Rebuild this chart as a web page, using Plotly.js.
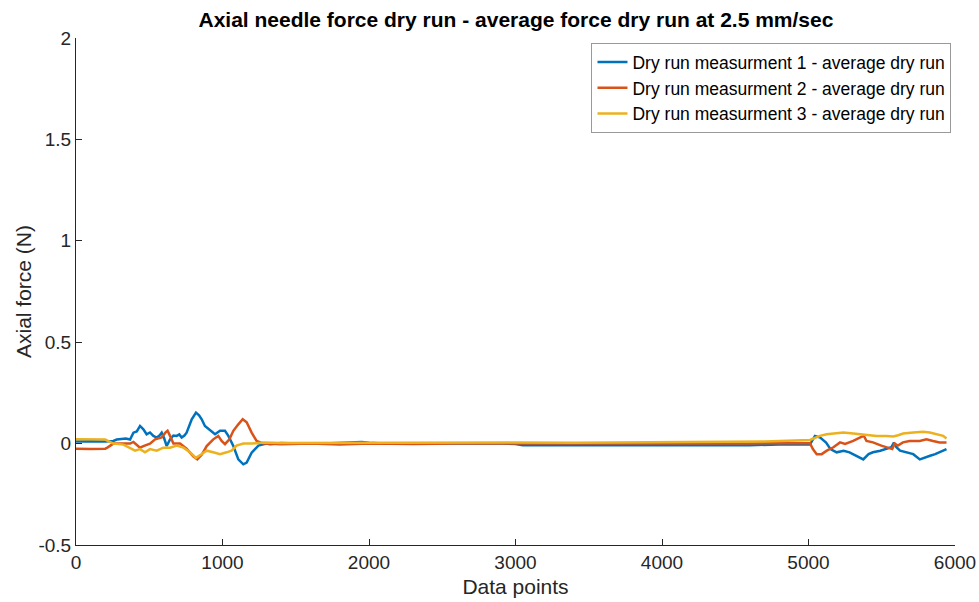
<!DOCTYPE html>
<html><head><meta charset="utf-8">
<script src="https://cdn.plot.ly/plotly-3.0.1.min.js"></script>
<style>html,body{margin:0;padding:0;background:#fff}#chart{width:979px;height:602px}</style>
</head><body><div id="chart"></div>
<script>
const seriesNames = ["Dry run measurment 1 - average dry run","Dry run measurment 2 - average dry run","Dry run measurment 3 - average dry run"];
const seriesColors = ["#0072BD","#D95319","#EDB120"];

const x1 = [0,100,200,255,278,340,369,392,415,437,460,482,505,528,551,570,585,600,619,642,665,687,705,721,740,755,790,819,840,858,880,900,915,949,983,1017,1040,1074,1108,1142,1165,1199,1245,1300,1324,1400,1500,1600,1700,1800,1900,1950,2000,2100,2300,2500,2700,2900,3000,3050,3300,3600,3800,4000,4300,4600,4800,5010,5044,5080,5120,5150,5192,5240,5280,5330,5374,5410,5440,5490,5530,5565,5583,5600,5625,5670,5715,5760,5795,5830,5865,5910,5942];
const y1 = [0.010,0.012,0.010,0.013,0.020,0.025,0.020,0.054,0.060,0.087,0.070,0.046,0.055,0.038,0.030,0.040,0.054,0.030,-0.012,0.021,0.040,0.038,0.045,0.030,0.040,0.054,0.120,0.153,0.140,0.120,0.087,0.075,0.063,0.046,0.063,0.063,0.038,-0.012,-0.078,-0.102,-0.094,-0.045,-0.010,0.000,-0.003,0.003,0.000,0.002,0.000,0.003,0.006,0.008,0.004,0.000,0.002,0.000,0.001,0.000,-0.002,-0.008,-0.008,-0.006,-0.008,-0.008,-0.006,-0.008,-0.004,-0.005,0.038,0.030,0.005,-0.027,-0.043,-0.035,-0.043,-0.060,-0.078,-0.052,-0.043,-0.035,-0.027,-0.018,0.005,-0.018,-0.035,-0.043,-0.052,-0.078,-0.068,-0.060,-0.052,-0.035,-0.027];

const x2 = [0,100,200,214,255,290,369,392,415,437,460,505,540,585,610,625,642,665,710,755,800,828,858,892,937,971,994,1017,1047,1074,1108,1138,1165,1199,1233,1280,1400,1600,1800,2000,2300,2600,3000,3400,3800,4200,4600,5010,5030,5056,5090,5125,5170,5215,5250,5305,5350,5378,5396,5440,5497,5542,5572,5588,5610,5645,5690,5760,5805,5850,5895,5942];
const y2 = [-0.025,-0.027,-0.025,-0.020,0.000,0.000,0.000,0.008,-0.005,-0.020,-0.012,0.000,0.021,0.030,0.054,0.063,0.038,0.000,0.000,-0.025,-0.063,-0.078,-0.055,-0.012,0.021,0.038,0.013,-0.003,0.021,0.063,0.095,0.120,0.105,0.054,0.013,0.000,-0.003,0.000,-0.004,0.000,-0.002,0.001,0.000,-0.001,0.001,0.000,0.001,0.002,-0.027,-0.052,-0.052,-0.035,-0.018,0.006,-0.002,0.013,0.030,0.038,0.013,0.006,-0.010,-0.018,-0.027,0.000,-0.010,0.006,0.013,0.013,0.021,0.013,0.006,0.006];

const x3 = [0,100,200,214,255,324,369,403,437,471,505,551,596,642,687,733,778,819,851,892,937,983,1028,1062,1096,1142,1199,1279,1400,1800,2200,2600,3000,3400,3800,4200,4700,5010,5044,5078,5124,5170,5238,5306,5351,5397,5465,5533,5578,5612,5646,5715,5783,5828,5874,5919,5942];
const y3 = [0.021,0.022,0.020,0.015,0.000,-0.005,-0.020,-0.035,-0.027,-0.043,-0.027,-0.035,-0.020,-0.020,-0.010,-0.020,-0.043,-0.070,-0.055,-0.035,-0.043,-0.052,-0.043,-0.035,-0.010,0.000,0.000,0.005,0.003,0.004,0.002,0.004,0.005,0.004,0.006,0.005,0.010,0.018,0.030,0.038,0.046,0.050,0.055,0.050,0.046,0.043,0.038,0.038,0.035,0.041,0.050,0.055,0.058,0.055,0.046,0.038,0.025];

const xTicks = [0,1000,2000,3000,4000,5000,6000];
const yTicks = [-0.5,0,0.5,1,1.5,2];

const xs = [x1,x2,x3], ys = [y1,y2,y3];
const traces = xs.map((x,i)=>({x:x,y:ys[i],type:'scatter',mode:'lines',name:seriesNames[i],line:{color:seriesColors[i],width:2.5}}));

const font = "'Liberation Sans', Arial, sans-serif";
const layout = {
  width:979,height:602,
  margin:{l:76,r:24,t:38,b:57},
  paper_bgcolor:'#fff',plot_bgcolor:'#fff',
  font:{family:font,color:'#262626',size:19},
  title:{text:'<b>Axial needle force dry run - average force dry run at 2.5 mm/sec</b>',x:0.527,xanchor:'center',y:0.98,yanchor:'top',font:{family:font,size:21,color:'#000'}},
  xaxis:{range:[0,6000],tickvals:xTicks,ticktext:xTicks.map(String),showline:true,linecolor:'#262626',linewidth:1,ticks:'inside',ticklen:6,tickcolor:'#262626',showgrid:false,zeroline:false,mirror:false,
    title:{text:'Data points',font:{size:21,color:'#262626'},standoff:7},tickfont:{size:19,color:'#262626'}},
  yaxis:{range:[-0.5,2],tickvals:yTicks,ticktext:yTicks.map(String),showline:true,linecolor:'#262626',linewidth:1,ticks:'inside',ticklen:6,tickcolor:'#262626',showgrid:false,zeroline:false,mirror:false,
    title:{text:'Axial force (N)',font:{size:21,color:'#262626'},standoff:1},tickfont:{size:19,color:'#262626'}},
  legend:{x:0.996,xanchor:'right',y:0.99,yanchor:'top',bgcolor:'#fff',bordercolor:'#999',borderwidth:1,font:{size:17.5,color:'#000',family:font},itemwidth:30,tracegroupgap:0},
  showlegend:true
};
Plotly.newPlot('chart',traces,layout,{displayModeBar:false,staticPlot:true});
</script></body></html>
